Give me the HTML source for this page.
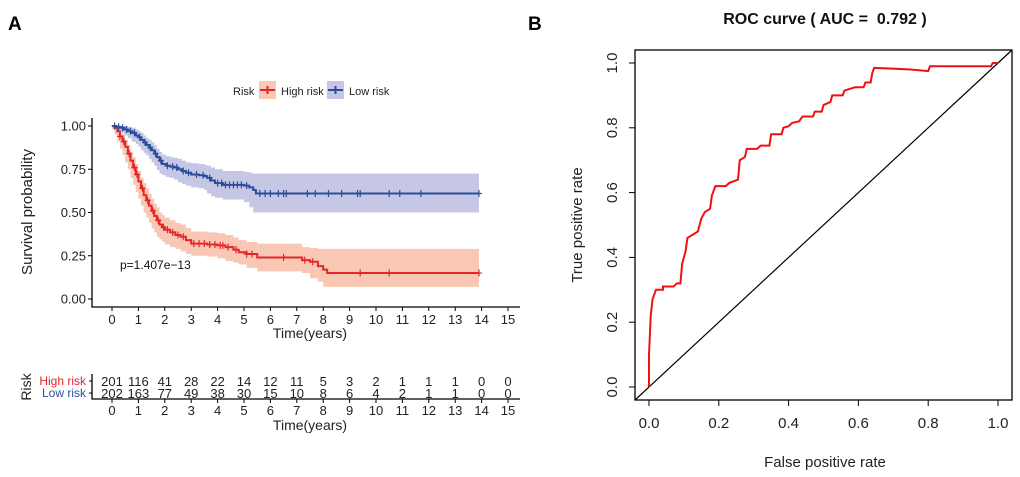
<!DOCTYPE html>
<html><head><meta charset="utf-8">
<style>
body{margin:0;background:#fff;}
svg{display:block;font-family:"Liberation Sans",Arial,sans-serif;}
</style></head>
<body>
<svg id="fig" width="1020" height="477" viewBox="0 0 1020 477">
<text x="8" y="30" font-size="19" font-weight="bold">A</text>
<text x="528" y="30" font-size="19" font-weight="bold">B</text>
<g id="km"></g>
<g id="roc"></g>
</svg>
<script>
// ---------- KM data ----------
const kmTicksX = [0,1,2,3,4,5,6,7,8,9,10,11,12,13,14,15];
const kmTicksY = [0,0.25,0.5,0.75,1.0];
const kmTickLabelsY = ["0.00","0.25","0.50","0.75","1.00"];
const lowTimes = [0,0.15,0.3,0.45,0.6,0.75,0.9,1.0,1.1,1.2,1.3,1.4,1.5,1.6,1.7,1.8,1.9,2.05,2.2,2.35,2.5,2.65,2.8,3.0,3.3,3.5,3.6,3.75,3.9,4.2,5.0,5.2,5.35,5.45,13.9];
const lowSurv  = [1,0.995,0.99,0.98,0.97,0.96,0.945,0.935,0.92,0.905,0.89,0.875,0.86,0.84,0.82,0.80,0.78,0.77,0.765,0.76,0.75,0.74,0.73,0.72,0.715,0.71,0.70,0.685,0.67,0.66,0.655,0.645,0.63,0.61,0.61];
const lowUpper = [1,1,1,1,0.995,0.99,0.98,0.97,0.96,0.945,0.93,0.92,0.905,0.89,0.87,0.85,0.835,0.825,0.82,0.815,0.81,0.80,0.79,0.785,0.78,0.775,0.77,0.76,0.75,0.74,0.735,0.73,0.725,0.725,0.725];
const lowLower = [1,0.985,0.975,0.96,0.945,0.93,0.91,0.895,0.88,0.86,0.845,0.83,0.81,0.79,0.77,0.745,0.725,0.715,0.705,0.70,0.69,0.675,0.665,0.655,0.645,0.64,0.63,0.61,0.595,0.585,0.575,0.56,0.53,0.50,0.50];
const highTimes = [0,0.1,0.2,0.3,0.4,0.5,0.6,0.7,0.8,0.9,1.0,1.1,1.2,1.3,1.4,1.5,1.6,1.7,1.8,1.9,2.0,2.2,2.4,2.6,2.8,3.0,3.6,4.0,4.3,4.6,4.8,5.1,5.5,7.2,7.5,7.8,8.0,8.15,13.9];
const highSurv  = [1,0.99,0.97,0.94,0.91,0.88,0.84,0.80,0.76,0.72,0.68,0.64,0.60,0.57,0.54,0.51,0.48,0.455,0.43,0.415,0.40,0.385,0.37,0.36,0.34,0.32,0.315,0.31,0.30,0.285,0.27,0.26,0.24,0.225,0.215,0.19,0.17,0.15,0.15];
const highUpper = [1,1,0.99,0.97,0.95,0.92,0.89,0.85,0.82,0.78,0.74,0.70,0.67,0.64,0.61,0.58,0.55,0.53,0.50,0.485,0.47,0.455,0.44,0.43,0.41,0.39,0.385,0.38,0.37,0.355,0.34,0.33,0.32,0.30,0.295,0.29,0.29,0.29,0.29];
const highLower = [1,0.98,0.95,0.91,0.87,0.83,0.79,0.75,0.70,0.66,0.62,0.58,0.54,0.50,0.47,0.44,0.41,0.385,0.36,0.345,0.33,0.315,0.30,0.29,0.275,0.26,0.25,0.245,0.235,0.22,0.21,0.20,0.18,0.16,0.15,0.12,0.10,0.07,0.07];
const lowCensor = [0.1,0.25,0.4,0.55,0.7,0.85,1.05,1.25,1.45,1.65,1.85,2.1,2.3,2.45,2.7,2.9,3.2,3.45,3.7,4.0,4.15,4.3,4.45,4.6,4.75,4.9,5.1,5.6,5.8,6.0,6.3,6.5,6.6,7.4,7.7,8.2,8.7,9.3,9.4,10.5,10.9,11.7,13.9];
const highCensor = [0.3,0.45,0.65,0.85,0.95,1.15,1.35,1.55,1.75,1.95,2.1,2.3,2.5,2.7,3.1,3.3,3.5,3.7,3.9,4.1,4.2,4.4,4.7,5.1,5.3,6.5,7.3,7.6,9.4,10.5,13.9];
const riskHigh = [201,116,41,28,22,14,12,11,5,3,2,1,1,1,0,0];
const riskLow  = [202,163,77,49,38,30,15,10,8,6,4,2,1,1,0,0];
// ---------- ROC data ----------
const rocTicks = [0,0.2,0.4,0.6,0.8,1.0];
const rocTickLabels = ["0.0","0.2","0.4","0.6","0.8","1.0"];
const rocFpr = [0,0,0.005,0.01,0.02,0.04,0.04,0.07,0.08,0.09,0.095,0.105,0.11,0.125,0.14,0.15,0.16,0.175,0.18,0.19,0.22,0.23,0.255,0.26,0.275,0.28,0.31,0.32,0.345,0.35,0.38,0.385,0.40,0.41,0.43,0.44,0.47,0.475,0.495,0.50,0.52,0.525,0.555,0.56,0.575,0.59,0.615,0.62,0.635,0.64,0.645,0.75,0.80,0.805,0.98,0.985,1];
const rocTpr = [0,0.1,0.22,0.27,0.30,0.30,0.31,0.31,0.32,0.32,0.38,0.42,0.46,0.47,0.48,0.52,0.54,0.55,0.59,0.62,0.62,0.63,0.64,0.70,0.71,0.735,0.735,0.745,0.745,0.78,0.78,0.80,0.805,0.815,0.82,0.835,0.835,0.85,0.85,0.87,0.88,0.90,0.90,0.915,0.92,0.925,0.925,0.94,0.94,0.97,0.985,0.98,0.975,0.99,0.99,1,1];

const NS="http://www.w3.org/2000/svg";
function mk(parent,tag,attrs,text){const e=document.createElementNS(NS,tag);for(const k in attrs)e.setAttribute(k,attrs[k]);if(text!==undefined)e.textContent=text;parent.appendChild(e);return e;}

// ---- KM ----
const km=document.getElementById('km');
const kx=t=>112+t*26.4, ky=s=>299-s*173;
const RED="#e3262a", BLUE="#2a4d9c";
function stepPath(ts,vs){let d="M"+kx(ts[0])+","+ky(vs[0]);for(let i=1;i<ts.length;i++){d+="H"+kx(ts[i])+"V"+ky(vs[i]);}return d;}
function bandPath(ts,up,lo){let d="M"+kx(ts[0])+","+ky(up[0]);for(let i=1;i<ts.length;i++){d+="H"+kx(ts[i])+"V"+ky(up[i]);}
 d+="V"+ky(lo[lo.length-1]);for(let i=ts.length-1;i>0;i--){d+="V"+ky(lo[i])+"H"+kx(ts[i-1]);}d+="Z";return d;}
let e;
e=mk(km,'path',{d:bandPath(lowTimes,lowUpper,lowLower),fill:"#c6c7e5",stroke:"none"});


e=mk(km,'path',{d:bandPath(highTimes,highUpper,highLower),fill:"#f8c8b4",stroke:"none"});


e=mk(km,'path',{d:stepPath(lowTimes,lowSurv),fill:"none",stroke:BLUE,"stroke-width":2});


e=mk(km,'path',{d:stepPath(highTimes,highSurv),fill:"none",stroke:RED,"stroke-width":2});


function survAt(ts,vs,t){let v=vs[0];for(let i=0;i<ts.length;i++){if(ts[i]<=t)v=vs[i];}return v;}
function censor(times,ts,vs,col,name){times.forEach(t=>{const x=kx(t),y=ky(survAt(ts,vs,t));
 const c=mk(km,'path',{d:`M${x-3},${y}H${x+3}M${x},${y-3.5}V${y+3.5}`,stroke:col,"stroke-width":1.2});
 
 });}
censor(lowCensor,lowTimes,lowSurv,BLUE,'low-risk-censor-mark');
censor(highCensor,highTimes,highSurv,RED,'high-risk-censor-mark');
// axes
e=mk(km,'path',{d:"M92,118V307H520",stroke:"#000","stroke-width":1.3,fill:"none"});


kmTicksY.forEach((v,i)=>{mk(km,'line',{x1:88,x2:92,y1:ky(v),y2:ky(v),stroke:"#000"});
 const t=mk(km,'text',{x:86,y:ky(v)+4.5,"font-size":13,"text-anchor":"end",fill:"#222"},kmTickLabelsY[i]);
 
 });
kmTicksX.forEach(v=>{mk(km,'line',{x1:kx(v),x2:kx(v),y1:307,y2:311,stroke:"#000"});
 const t=mk(km,'text',{x:kx(v),y:324,"font-size":13,"text-anchor":"middle",fill:"#222"},String(v));
 
 });
e=mk(km,'text',{x:310,y:338,"font-size":14,"text-anchor":"middle",fill:"#222"},"Time(years)");


e=mk(km,'text',{x:32,y:212,"font-size":15,"text-anchor":"middle",fill:"#222",transform:"rotate(-90 32 212)"},"Survival probability");


e=mk(km,'text',{x:120,y:269,"font-size":12,fill:"#111"},"p=1.407e\u221213");


// legend
e=mk(km,'text',{x:233,y:95,"font-size":11,fill:"#222"},"Risk");


[[259,"#f8c8b4",RED,"High risk",281,'legend-high-risk'],[327,"#c6c7e5",BLUE,"Low risk",349,'legend-low-risk']].forEach(L=>{
 const g=mk(km,'g',{});
 
 
 mk(g,'rect',{x:L[0],y:81,width:17,height:18,fill:L[1]});
 mk(g,'path',{d:`M${L[0]+1},90H${L[0]+16}M${L[0]+8.5},86V94`,stroke:L[2],"stroke-width":2});
 mk(g,'text',{x:L[4],y:95,"font-size":11,fill:"#222"},L[3]);});
// risk table
e=mk(km,'path',{d:"M92,374V399H520",stroke:"#000","stroke-width":1.3,fill:"none"});


mk(km,'line',{x1:89,x2:92,y1:381,y2:381,stroke:"#000"});mk(km,'line',{x1:89,x2:92,y1:393,y2:393,stroke:"#000"});
e=mk(km,'text',{x:86,y:385,"font-size":12,"text-anchor":"end",fill:RED},"High risk");


e=mk(km,'text',{x:86,y:397,"font-size":12,"text-anchor":"end",fill:BLUE},"Low risk");


e=mk(km,'text',{x:31,y:387,"font-size":14,"text-anchor":"middle",fill:"#222",transform:"rotate(-90 31 387)"},"Risk");


kmTicksX.forEach((v,i)=>{
 const a=mk(km,'text',{x:kx(v),y:386,"font-size":13,"text-anchor":"middle",fill:"#222"},String(riskHigh[i]));
 
 
 const b=mk(km,'text',{x:kx(v),y:398,"font-size":13,"text-anchor":"middle",fill:"#222"},String(riskLow[i]));
 
 
 mk(km,'line',{x1:kx(v),x2:kx(v),y1:399,y2:403,stroke:"#000"});
 const t=mk(km,'text',{x:kx(v),y:415,"font-size":13,"text-anchor":"middle",fill:"#222"},String(v));
 
 });
e=mk(km,'text',{x:310,y:430,"font-size":14,"text-anchor":"middle",fill:"#222"},"Time(years)");



// ---- ROC ----
const roc=document.getElementById('roc');
const rx=f=>649+f*349, ry=t=>387-t*324;
e=mk(roc,'text',{x:825,y:24,"font-size":16,"font-weight":"bold","text-anchor":"middle",fill:"#111"},"ROC curve ( AUC =\u00a0\u00a00.792 )");


e=mk(roc,'rect',{x:635,y:50,width:377,height:350,fill:"none",stroke:"#000","stroke-width":1.3});


e=mk(roc,'line',{x1:635,y1:400,x2:1012,y2:50,stroke:"#000","stroke-width":1.2});


let d="M"+rx(rocFpr[0])+","+ry(rocTpr[0]);
for(let i=1;i<rocFpr.length;i++)d+="L"+rx(rocFpr[i])+","+ry(rocTpr[i]);
e=mk(roc,'path',{d:d,fill:"none",stroke:"#f01010","stroke-width":2});


rocTicks.forEach((v,i)=>{
 mk(roc,'line',{x1:rx(v),x2:rx(v),y1:400,y2:406,stroke:"#000"});
 const t=mk(roc,'text',{x:rx(v),y:428,"font-size":15,"text-anchor":"middle",fill:"#222"},rocTickLabels[i]);
 
 
 mk(roc,'line',{x1:629,x2:635,y1:ry(v),y2:ry(v),stroke:"#000"});
 const u=mk(roc,'text',{x:617,y:ry(v),"font-size":15,"text-anchor":"middle",fill:"#222",transform:`rotate(-90 617 ${ry(v)})`},rocTickLabels[i]);
 
 });
e=mk(roc,'text',{x:825,y:467,"font-size":15,"text-anchor":"middle",fill:"#222"},"False positive rate");


e=mk(roc,'text',{x:582,y:225,"font-size":15,"text-anchor":"middle",fill:"#222",transform:"rotate(-90 582 225)"},"True positive rate");


</script>
</body></html>
